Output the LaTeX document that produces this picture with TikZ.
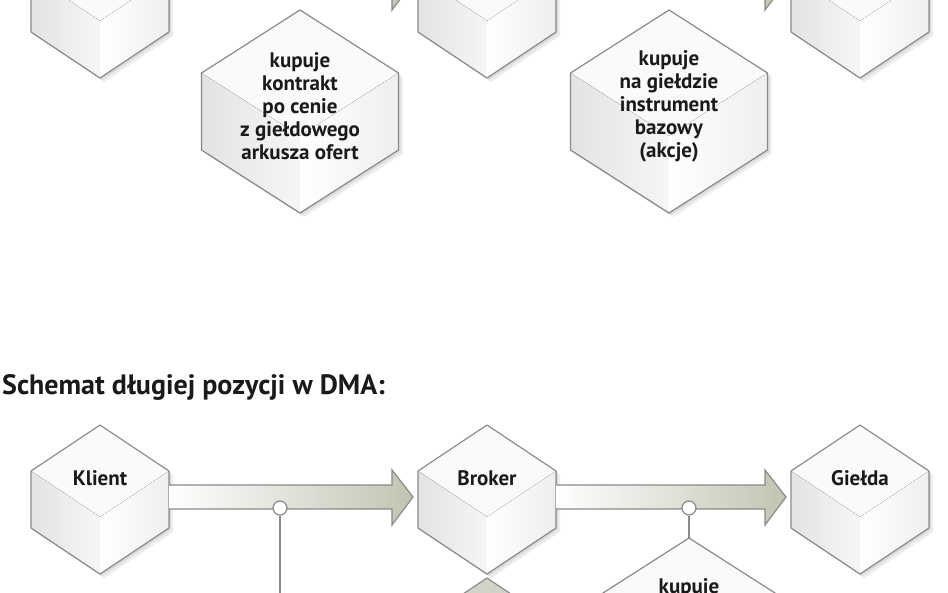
\documentclass[tikz,border=0pt]{standalone}
\usepackage{fontspec}
\setmainfont{PT Sans}
\usetikzlibrary{calc}
\definecolor{edgegrey}{RGB}{138,138,138}
\definecolor{arrowgrey}{RGB}{194,196,178}
\definecolor{inkblack}{RGB}{26,26,26}
\tikzset{
  cube edge/.style={
    draw=edgegrey,
    line width=1.2pt,
    line join=round
  },
  top face/.style={fill=gray!4},
  left face/.style={left color=gray!22, right color=gray!7},
  right face/.style={left color=white, right color=gray!13},
  cube shadow/.style={fill=black, opacity=0.07},
  cube box/.style={
    rectangle,
    inner sep=0pt,
    outer sep=0pt,
    minimum width=138pt,
    minimum height=57pt
  },
  cube label/.style={
    font=\bfseries\fontsize{21}{24}\selectfont,
    text=inkblack
  },
  hex label/.style={
    font=\bfseries\fontsize{21}{23}\selectfont,
    text=inkblack,
    align=center
  },
  heading/.style={
    anchor=west,
    inner sep=0pt,
    font=\bfseries\fontsize{28}{32}\selectfont,
    text=inkblack
  },
  arrow body/.style={
    draw=edgegrey,
    line width=1.2pt,
    line join=miter,
    left color=white,
    middle color=white,
    right color=arrowgrey
  },
  link/.style={
    draw=edgegrey,
    line width=1.2pt
  },
  joint/.style={
    circle,
    draw=edgegrey,
    fill=white,
    line width=1.2pt,
    minimum size=14pt,
    inner sep=0pt
  }
}
% szescian: x, y srodka, pol szerokosci, skos, pol krawedzi pionowej
\newcommand{\cubefaces}[5]{%
  \fill[cube shadow, shift={(4,4)}] ({#1},{#2-#5-#4}) -- ({#1+#3},{#2-#5}) -- ({#1+#3},{#2+#5}) -- ({#1},{#2+#5+#4}) -- ({#1-#3},{#2+#5}) -- ({#1-#3},{#2-#5}) -- cycle;
  \fill[cube shadow, shift={(2,2)}] ({#1},{#2-#5-#4}) -- ({#1+#3},{#2-#5}) -- ({#1+#3},{#2+#5}) -- ({#1},{#2+#5+#4}) -- ({#1-#3},{#2+#5}) -- ({#1-#3},{#2-#5}) -- cycle;
  \fill[top face] ({#1},{#2-#5-#4}) -- ({#1+#3},{#2-#5}) -- ({#1},{#2-#5+#4}) -- ({#1-#3},{#2-#5}) -- cycle;
  \fill[left face] ({#1-#3},{#2-#5}) -- ({#1},{#2-#5+#4}) -- ({#1},{#2+#5+#4}) -- ({#1-#3},{#2+#5}) -- cycle;
  \fill[right face] ({#1},{#2-#5+#4}) -- ({#1+#3},{#2-#5}) -- ({#1+#3},{#2+#5}) -- ({#1},{#2+#5+#4}) -- cycle;
  \draw[cube edge] ({#1},{#2-#5-#4}) -- ({#1+#3},{#2-#5}) -- ({#1+#3},{#2+#5}) -- ({#1},{#2+#5+#4}) -- ({#1-#3},{#2+#5}) -- ({#1-#3},{#2-#5}) -- cycle;
}
% gruba strzalka: od, do, przesuniecie osi
\newcommand{\fatarrow}[3]{%
  \path[arrow body] ($(#1.east)+(0,{#3-12})$) -- ($(#2.west)+(-26,{#3-12})$) -- ($(#2.west)+(-26,{#3-27})$) -- ($(#2.west)+(-5,{#3})$) -- ($(#2.west)+(-26,{#3+28})$) -- ($(#2.west)+(-26,{#3+12})$) -- ($(#1.east)+(0,{#3+12})$);
}

\begin{document}
\begin{tikzpicture}[x=1pt, y=-1pt]
  \useasboundingbox (0,0) rectangle (948,593);
  \clip (0,0) rectangle (948,593);
  \fill[white] (0,0) rectangle (948,593);

  % gorny schemat (uciety)
  \node[cube box] (klientA) at (100,3.5) {};
  \node[cube box] (brokerA) at (487,3.5) {};
  \node[cube box] (gieldaA) at (860,3.5) {};
  \cubefaces{100}{3.5}{69}{46}{28.5}
  \cubefaces{487}{3.5}{69}{46}{28.5}
  \cubefaces{860}{3.5}{69}{46}{28.5}
  \fatarrow{klientA}{brokerA}{-21.5}
  \fatarrow{brokerA}{gieldaA}{-21.5}

  % szesciokaty z opisem
  \cubefaces{300}{111.5}{98.5}{63}{38.5}
  \cubefaces{669}{111.5}{98.5}{63}{38.5}
  \node[hex label] (kontrakt) at (300,106) {kupuje\\kontrakt\\po cenie\\z giełdowego\\arkusza ofert};
  \node[hex label] (akcje) at (669,106) {kupuje\\na giełdzie\\instrument\\bazowy\\(akcje)};

  % tytul
  \node[heading] (tytul) at (2,387) {Schemat długiej pozycji w DMA:};

  % dolny schemat
  \begin{scope}[top face/.style={fill=arrowgrey!75}, left face/.style={fill=arrowgrey}, right face/.style={fill=arrowgrey!55}]
    \cubefaces{487}{652.5}{69}{46}{28.5}
  \end{scope}
  \node[cube box] (klient) at (100,499.5) {};
  \node[cube box] (broker) at (487,499.5) {};
  \node[cube box] (gielda) at (860,499.5) {};
  \cubefaces{100}{499.5}{69}{46}{28.5}
  \cubefaces{487}{499.5}{69}{46}{28.5}
  \cubefaces{860}{499.5}{69}{46}{28.5}
  \node[cube label] at ($(klient)+(0,-21.5)$) {Klient};
  \node[cube label] at ($(broker)+(0,-21.5)$) {Broker};
  \node[cube label] at ($(gielda)+(0,-21.5)$) {Giełda};

  \cubefaces{689}{639.5}{98.5}{63}{38.5}
  \coordinate (zakup top) at (689,538);
  \node[hex label] (zakup) at (689,588) {kupuje};

  \fatarrow{klient}{broker}{-2.5}
  \fatarrow{broker}{gielda}{-2.5}

  % polaczenia
  \node[joint] (joint1) at (280,508) {};
  \node[joint] (joint2) at (689,508) {};
  \coordinate (dol) at (280,600);
  \draw[link] (joint1) -- (dol);
  \draw[link] (joint2) -- (zakup top);

\end{tikzpicture}
\end{document}
